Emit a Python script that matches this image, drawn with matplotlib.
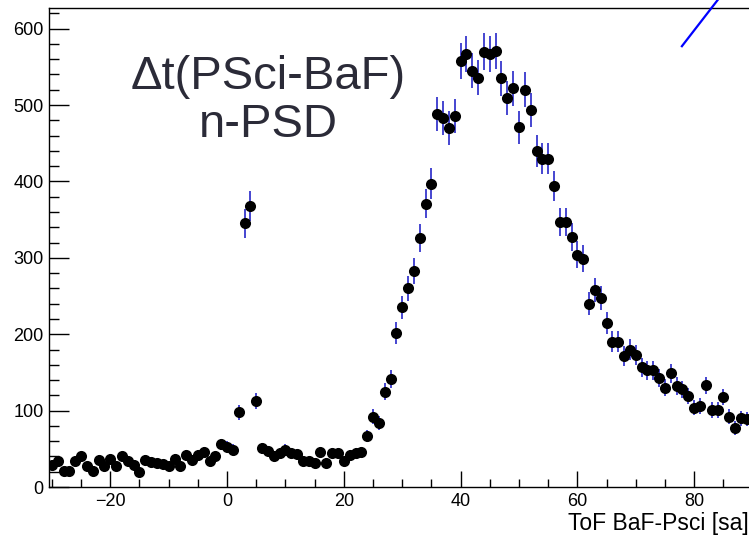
import numpy as np
import matplotlib
matplotlib.use("Agg")
import matplotlib.pyplot as plt
from matplotlib.ticker import MultipleLocator

plt.rcParams['font.family'] = ['Liberation Sans', 'DejaVu Sans']

# bin centres (width 1) and counts
tof_bins = list(range(-30, 90))
counts = [
    29, 34, 21, 21, 34, 40, 27, 21, 36, 27,      # -30 .. -21
    37, 27, 40, 34, 29, 20, 36, 33, 31, 30,      # -20 .. -11
    27, 37, 27, 42, 35, 42, 46, 34, 40, 56,      # -10 .. -1
    53, 49, 98, 345, 368, 113, 51, 47, 40, 44,   # 0 .. 9
    49, 45, 43, 34, 34, 32, 46, 32, 45, 45,      # 10 .. 19
    34, 42, 44, 46, 67, 92, 84, 125, 141, 202,   # 20 .. 29
    235, 260, 283, 326, 371, 397, 488, 483, 470, 486,  # 30 .. 39
    558, 567, 545, 536, 570, 567, 571, 535, 509, 522,  # 40 .. 49
    471, 520, 493, 440, 430, 430, 394, 347, 347, 327,  # 50 .. 59
    304, 299, 240, 258, 247, 215, 190, 190, 171, 180,  # 60 .. 69
    173, 157, 153, 153, 143, 130, 149, 132, 128, 119,  # 70 .. 79
    104, 106, 133, 101, 101, 118, 92, 77, 90, 89,      # 80 .. 89
]

# stray blue line in the top right corner (data coordinates)
line_x = [77.9, 85.5]
line_y = [577, 652]

title_lines = ["\u0394t(PSci-BaF)", "n-PSD"]
x_title = "ToF BaF-Psci [sa]"

x = np.array(tof_bins)
y = np.array(counts, dtype=float)
err = np.sqrt(y)

fig = plt.figure(figsize=(7.49, 5.40), dpi=100)
# frame runs past the right edge of the picture, like the cropped original
ax = fig.add_axes([0.0654, 0.0981, 1.0134, 0.8871])

ax.errorbar(x, y, yerr=err, fmt='none', ecolor='#2626c8', elinewidth=1.2, capsize=0, zorder=2)
ax.plot(x, y, 'o', color='black', markersize=8, markeredgewidth=0, zorder=3)

ax.plot(line_x, line_y, color='#0000ff', lw=1.6, clip_on=False, zorder=4)

ax.set_xlim(-30.5, 99.5)
ax.set_ylim(0, 627)

ax.xaxis.set_major_locator(MultipleLocator(20))
ax.xaxis.set_minor_locator(MultipleLocator(5))
ax.yaxis.set_major_locator(MultipleLocator(100))
ax.yaxis.set_minor_locator(MultipleLocator(20))

ax.tick_params(axis='x', which='major', direction='in', length=11.5, width=1, labelsize=13, pad=4)
ax.tick_params(axis='x', which='minor', direction='in', length=5.8, width=1)
ax.tick_params(axis='y', which='major', direction='in', length=14.4, width=1, labelsize=13, pad=4)
ax.tick_params(axis='y', which='minor', direction='in', length=7.2, width=1)
ax.tick_params(top=False, right=False, which='both')

for s in ax.spines.values():
    s.set_linewidth(1.0)

# big two-line label inside the frame
fig.text(268 / 749, 1 - 89 / 540, title_lines[0], fontsize=34, color='#2b2b38',
         ha='center', va='baseline')
fig.text(268 / 749, 1 - 137 / 540, title_lines[1], fontsize=34, color='#2b2b38',
         ha='center', va='baseline')

fig.text(0.999, 1 - 530 / 540, x_title, fontsize=16.5, color='black',
         ha='right', va='baseline')

fig.savefig("out.png", dpi=100)
